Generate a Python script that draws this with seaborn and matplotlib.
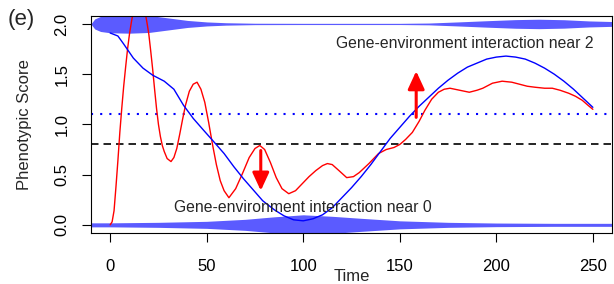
import numpy as np
import pandas as pd
import seaborn as sns
import matplotlib.pyplot as plt

# red curve (observed phenotype)
red_t = [0, 1, 2, 3, 4, 5, 6, 7, 8, 9, 10, 11, 12.5, 15, 17.5, 19, 20, 21, 22, 23, 24, 25,
         26, 27, 28, 29.5, 31.5, 33, 34.5, 36, 37.5, 39, 41, 43, 45, 47, 49, 51, 53, 55, 57,
         59, 61.5, 65, 68.5, 72, 75, 77.5, 80, 83, 86, 89, 92.5, 96, 99.5, 103, 106.5, 110,
         112.5, 115, 118.5, 122.5, 126, 129, 134, 139, 143, 147, 150, 153, 156.5, 160, 163,
         166.5, 170, 173, 176, 181, 186, 190, 193, 198, 203, 208, 212, 216, 220, 225, 229,
         233, 237.5, 241, 244.5, 247.5, 250]
red_v = [0.00, 0.03, 0.14, 0.38, 0.64, 0.92, 1.16, 1.38, 1.57, 1.75, 1.90, 2.02, 2.18, 2.30,
         2.18, 2.02, 1.90, 1.73, 1.55, 1.35, 1.16, 1.00, 0.88, 0.79, 0.73, 0.66, 0.63, 0.67,
         0.76, 0.90, 1.05, 1.19, 1.33, 1.40, 1.42, 1.35, 1.22, 1.02, 0.80, 0.60, 0.44, 0.34,
         0.27, 0.36, 0.51, 0.67, 0.76, 0.79, 0.75, 0.62, 0.47, 0.36, 0.31, 0.34, 0.41, 0.48,
         0.54, 0.59, 0.61, 0.60, 0.54, 0.47, 0.48, 0.52, 0.61, 0.71, 0.75, 0.77, 0.80, 0.85,
         0.92, 1.03, 1.14, 1.25, 1.32, 1.35, 1.36, 1.34, 1.32, 1.34, 1.36, 1.41, 1.43, 1.42,
         1.40, 1.38, 1.37, 1.36, 1.36, 1.34, 1.31, 1.28, 1.24, 1.19, 1.15]

# blue curve (expected)
blue_t = [0, 4, 7, 12, 17, 22, 28, 33, 38, 43, 48, 54, 59, 64, 69, 74, 79, 85, 90, 95, 100,
          105, 110, 115, 120, 125, 130, 135, 140, 145, 150, 155, 160, 165, 170, 175, 180, 185,
          190, 195, 200, 205, 210, 215, 220, 225, 230, 235, 240, 245, 250]
blue_v = [1.91, 1.88, 1.80, 1.66, 1.56, 1.49, 1.43, 1.35, 1.19, 1.06, 0.95, 0.82, 0.71, 0.58,
          0.46, 0.35, 0.24, 0.15, 0.09, 0.05, 0.04, 0.06, 0.10, 0.17, 0.27, 0.37, 0.48, 0.60,
          0.73, 0.86, 0.97, 1.08, 1.18, 1.27, 1.36, 1.44, 1.51, 1.57, 1.61, 1.65, 1.67, 1.68,
          1.67, 1.65, 1.61, 1.56, 1.50, 1.43, 1.35, 1.26, 1.17]

# band half-widths around 2 and 0
top_t = [-10, -8, -5, 0, 10, 20, 30, 40, 50, 60, 75, 100, 150, 165, 180, 195, 210, 222, 235, 248, 260]
top_hw = [0.0, 0.05, 0.075, 0.088, 0.092, 0.085, 0.06, 0.035, 0.02, 0.012, 0.007, 0.006, 0.006,
          0.009, 0.02, 0.032, 0.043, 0.047, 0.042, 0.03, 0.024]
bot_t = [-10, 0, 25, 50, 70, 85, 100, 115, 130, 150, 175, 200, 230, 260]
bot_hw = [0.02, 0.02, 0.025, 0.035, 0.055, 0.08, 0.10, 0.085, 0.065, 0.04, 0.025, 0.018, 0.015, 0.015]

sns.set_style("ticks")
plt.rcParams['font.family'] = ['Liberation Sans', 'DejaVu Sans']

fig = plt.figure(figsize=(6.14, 2.84), dpi=100)
ax = fig.add_axes([0.148, 0.180, 0.849, 0.764])

band = "#5b5bff"
ax.fill_between(top_t, 2 - np.array(top_hw), 2 + np.array(top_hw), color=band, lw=0)
ax.fill_between(bot_t, -np.array(bot_hw), np.array(bot_hw), color=band, lw=0)

ax.axhline(1.1, color="#0000ff", lw=1.5, ls=(0, (1, 3.4)))
ax.axhline(0.8, color="black", lw=1.2, ls=(0, (4.5, 3)))

red = pd.DataFrame({"Time": red_t, "Score": red_v})
blue = pd.DataFrame({"Time": blue_t, "Score": blue_v})
sns.lineplot(data=red, x="Time", y="Score", color="#ff0000", lw=1.0, ax=ax)
sns.lineplot(data=blue, x="Time", y="Score", color="#0000ff", lw=1.0, ax=ax)

arrow = dict(arrowstyle="-|>,head_length=1.08,head_width=0.5", color="#ff0000",
             lw=2.2, shrinkA=0, shrinkB=0, mutation_scale=10)
ax.annotate("", xy=(78, 0.34), xytext=(78, 0.74), arrowprops=arrow)
ax.annotate("", xy=(158.5, 1.53), xytext=(158.5, 1.07), arrowprops=arrow)

ax.text(183.7, 1.757, "Gene-environment interaction near 2", ha="center", va="baseline", fontsize=11.3)
ax.text(99.9, 0.123, "Gene-environment interaction near 0", ha="center", va="baseline", fontsize=11.3)

ax.set_xlim(-10, 260)
ax.set_ylim(-0.08, 2.08)
ax.set_xticks([0, 50, 100, 150, 200, 250])
ax.set_yticks([0.0, 0.5, 1.0, 1.5, 2.0])
ax.set_yticklabels(["0.0", "0.5", "1.0", "1.5", "2.0"], rotation=90, va="center")
ax.tick_params(length=6.5, width=0.8, labelsize=12, colors="black")
ax.tick_params(axis="x", pad=12)
ax.tick_params(axis="y", pad=9)
for s in ax.spines.values():
    s.set_visible(True)
    s.set_color("black")
    s.set_linewidth(0.8)
ax.set_xlabel("Time", fontsize=12, labelpad=-3)
ax.set_ylabel("Phenotypic Score", fontsize=12, labelpad=16)
fig.text(0.034, 0.933, "(e)", fontsize=16, ha="center", va="center")

fig.savefig("out.png", dpi=100)
